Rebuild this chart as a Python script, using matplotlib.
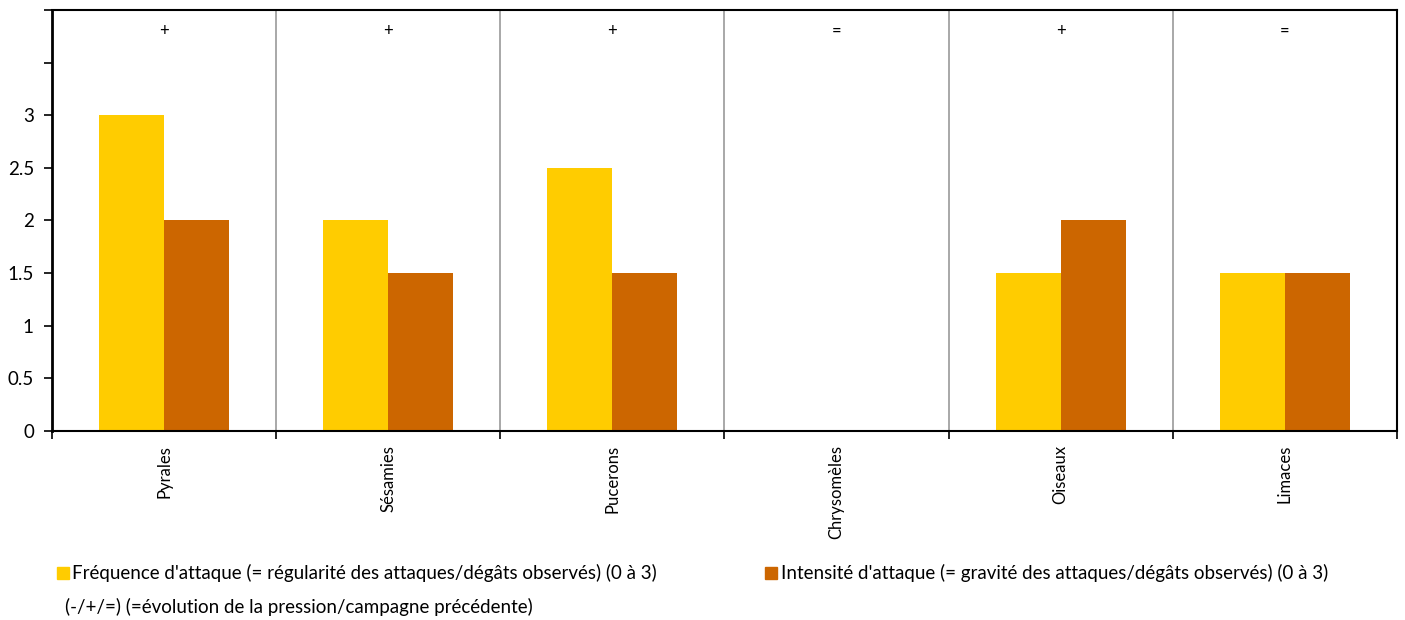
import numpy as np
import matplotlib.pyplot as plt
from matplotlib.patches import Rectangle

plt.rcParams['font.family'] = ['Lato', 'DejaVu Sans']

categories = ["Pyrales", "Sésamies", "Pucerons", "Chrysomèles", "Oiseaux", "Limaces"]
frequence = [3, 2, 2.5, 0, 1.5, 1.5]
intensite = [2, 1.5, 1.5, 0, 2, 1.5]
evolution = ["+", "+", "+", "=", "+", "="]

label_freq = "Fréquence d'attaque (= régularité des attaques/dégâts observés) (0 à 3)"
label_int = "Intensité d'attaque (= gravité des attaques/dégâts observés) (0 à 3)"
note = "(-/+/=) (=évolution de la pression/campagne précédente)"

col_freq = "#FFCC00"
col_int = "#CC6600"
fs = 13.5

fig = plt.figure(figsize=(14.05, 6.2), dpi=100)
ax = fig.add_axes([0.037, 0.305, 0.9573, 0.679])

x = np.arange(len(categories))
w = 0.29
ax.bar(x - w / 2, frequence, w, color=col_freq, zorder=2)
ax.bar(x + w / 2, intensite, w, color=col_int, zorder=2)

for xi, s in zip(x, evolution):
    ax.text(xi, 3.8, s, ha="center", va="center", fontsize=12, color="black")

# separators between categories
for b in np.arange(0.5, len(categories) - 0.5, 1):
    ax.axvline(b, color="#999999", lw=1.2, zorder=1)

ax.set_xlim(-0.5, len(categories) - 0.5)
ax.set_ylim(0, 4)
ax.set_yticks(np.arange(0, 4.01, 0.5))
ax.set_yticklabels(["0", "0.5", "1", "1.5", "2", "2.5", "3", "", ""])
ax.tick_params(axis="y", length=6, width=1.2, labelsize=fs, pad=7)

ax.set_xticks(x)
ax.set_xticklabels(categories, rotation=90, fontsize=12)
ax.tick_params(axis="x", length=0, pad=10)
ax.set_xticks(np.arange(-0.5, len(categories), 1), minor=True)
ax.tick_params(axis="x", which="minor", length=6, width=1.2)

for side in ["left", "bottom", "top", "right"]:
    ax.spines[side].set_color("black")
    ax.spines[side].set_linewidth(1.5)
ax.spines["left"].set_linewidth(2)

# legend
fig.patches.append(Rectangle((57 / 1405, 1 - 579 / 620), 12 / 1405, 12 / 620,
                             transform=fig.transFigure, color=col_freq))
fig.text(72 / 1405, 1 - 573 / 620, label_freq, fontsize=fs, va="center")
fig.patches.append(Rectangle((765 / 1405, 1 - 579 / 620), 12 / 1405, 12 / 620,
                             transform=fig.transFigure, color=col_int))
fig.text(781 / 1405, 1 - 573 / 620, label_int, fontsize=fs, va="center")
fig.text(65 / 1405, 1 - 607 / 620, note, fontsize=fs, va="center")

fig.savefig("out.png", dpi=100)
